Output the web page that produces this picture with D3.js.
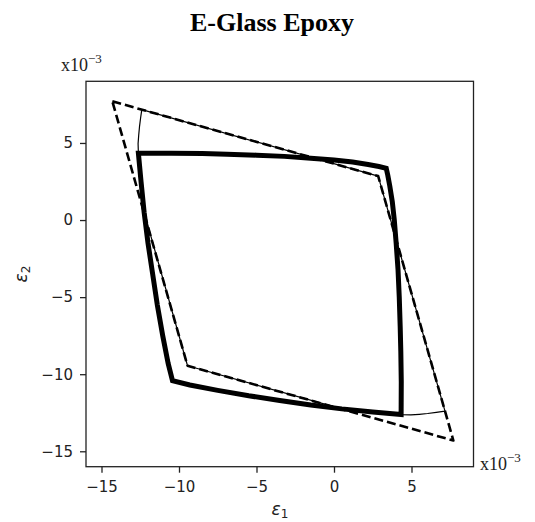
<!DOCTYPE html>
<html>
<head>
<meta charset="utf-8">
<script src="https://cdn.jsdelivr.net/npm/d3@7"></script>
<style>
  body { margin: 0; background: #fff; }
  svg { display: block; }
</style>
</head>
<body>
<div id="chart"></div>
<script>
// --------------- Data (strain, x10^-3) ---------------
const TICKS = [-15, -10, -5, 0, 5];
const DOMAIN = [-16, 9];

// max-strain style envelope (dashed)
const dashedEnvelope = [
  [-14.3, 7.7], [2.85, 2.85], [7.7, -14.3], [-9.45, -9.45]
];

// thin solid envelope
const thinEnvelope = [
  [-12.62, 4.33], [-12.64, 4.96], [-12.6, 5.5], [-12.55, 6.04], [-12.48, 6.6],
  [-12.4, 7.16], [2.85, 2.85], [7.16, -12.4], [6.6, -12.48], [6.04, -12.55],
  [5.5, -12.6], [4.96, -12.64], [4.33, -12.62], [2.5, -12.45], [0.5, -12.25],
  [-9.45, -9.45], [-12.25, 0.5], [-12.45, 2.5]
];

// thick solid envelope
const thickEnvelope = [
  [-12.62, 4.33], [-10.5, 4.34], [-8.5, 4.31], [-6.9, 4.27], [-5.0, 4.21],
  [-3.2, 4.13], [-1.5, 4.01], [0.0, 3.89], [1.2, 3.76], [2.2, 3.6], [2.9, 3.47],
  [3.37, 3.36],
  [3.47, 2.9], [3.6, 2.2], [3.76, 1.2], [3.89, 0.0], [4.01, -1.5], [4.13, -3.2],
  [4.21, -5.0], [4.27, -6.9], [4.31, -8.5], [4.34, -10.5], [4.33, -12.62],
  [2.5, -12.45], [0.5, -12.25], [-1.5, -12.0], [-3.5, -11.7], [-5.5, -11.4],
  [-7.5, -11.05], [-9.3, -10.7], [-10.42, -10.42],
  [-10.7, -9.3], [-11.05, -7.5], [-11.4, -5.5], [-11.7, -3.5], [-12.0, -1.5],
  [-12.25, 0.5], [-12.45, 2.5]
];

// --------------- Layout ---------------
const WIDTH = 535;
const HEIGHT = 522;
const PLOT = { left: 86, right: 473.5, top: 81.3, bottom: 466.7 };

const svg = d3
  .select("#chart")
  .append("svg")
  .attr("width", WIDTH)
  .attr("height", HEIGHT);

const X_SCALE = d3.scaleLinear().domain(DOMAIN).range([PLOT.left, PLOT.right]);
const Y_SCALE = d3.scaleLinear().domain(DOMAIN).range([PLOT.bottom, PLOT.top]);

const line = d3
  .line()
  .x((d) => X_SCALE(d[0]))
  .y((d) => Y_SCALE(d[1]))
  .curve(d3.curveLinearClosed);

const curves = svg.append("g").attr("id", "curves");

curves
  .append("path")
  .attr("d", line(thinEnvelope))
  .attr("fill", "none")
  .attr("stroke", "#000")
  .attr("stroke-width", 1.2)
  .attr("stroke-linejoin", "round");

curves
  .append("path")
  .attr("d", line(dashedEnvelope))
  .attr("fill", "none")
  .attr("stroke", "#000")
  .attr("stroke-width", 2.6)
  .attr("stroke-dasharray", "9,4")
  .attr("stroke-linejoin", "round");

curves
  .append("path")
  .attr("d", line(thickEnvelope))
  .attr("fill", "none")
  .attr("stroke", "#000")
  .attr("stroke-width", 5)
  .attr("stroke-linejoin", "miter");

// frame
svg
  .append("rect")
  .attr("x", PLOT.left)
  .attr("y", PLOT.top)
  .attr("width", PLOT.right - PLOT.left)
  .attr("height", PLOT.bottom - PLOT.top)
  .attr("fill", "none")
  .attr("stroke", "#222")
  .attr("stroke-width", 1.3);

// axes
const xAxis = svg
  .append("g")
  .attr("transform", `translate(0,${PLOT.bottom})`)
  .call(d3.axisBottom(X_SCALE).tickValues(TICKS).tickSize(6).tickPadding(9));

const yAxis = svg
  .append("g")
  .attr("transform", `translate(${PLOT.left},0)`)
  .call(d3.axisLeft(Y_SCALE).tickValues(TICKS).tickSize(6).tickPadding(7));

[xAxis, yAxis].forEach((g) => {
  g.select(".domain").remove();
  g.selectAll(".tick line").attr("stroke", "#222").attr("stroke-width", 1.3);
  g.selectAll(".tick text")
    .attr("fill", "#222")
    .style("font-family", "DejaVu Sans")
    .style("font-size", "15px");
});

// exponent labels
const addExponent = (x, y) => {
  const t = svg
    .append("text")
    .attr("x", x)
    .attr("y", y)
    .style("font-family", "Liberation Serif")
    .style("font-size", "18px")
    .attr("fill", "#222");
  t.append("tspan").text("x10");
  t.append("tspan").attr("dy", -8).style("font-size", "13px").text("\u22123");
};
addExponent(61, 71);
addExponent(480, 470);

// axis labels
const xLabel = svg
  .append("text")
  .attr("x", 280)
  .attr("y", 515)
  .attr("text-anchor", "middle")
  .style("font-family", "DejaVu Sans")
  .style("font-size", "17px")
  .attr("fill", "#222");
xLabel.append("tspan").style("font-style", "italic").text("\u03b5");
xLabel.append("tspan").attr("dy", 2.5).style("font-size", "12px").text("1");

const yLabel = svg
  .append("text")
  .attr("transform", "translate(27,274) rotate(-90)")
  .attr("text-anchor", "middle")
  .style("font-family", "DejaVu Sans")
  .style("font-size", "17px")
  .attr("fill", "#222");
yLabel.append("tspan").style("font-style", "italic").text("\u03b5");
yLabel.append("tspan").attr("dy", 2.5).style("font-size", "12px").text("2");

// title
svg
  .append("text")
  .attr("x", 272)
  .attr("y", 31)
  .attr("text-anchor", "middle")
  .style("font-family", "Liberation Serif")
  .style("font-weight", "bold")
  .style("font-size", "26px")
  .attr("fill", "#000")
  .text("E-Glass Epoxy");
</script>
</body>
</html>
